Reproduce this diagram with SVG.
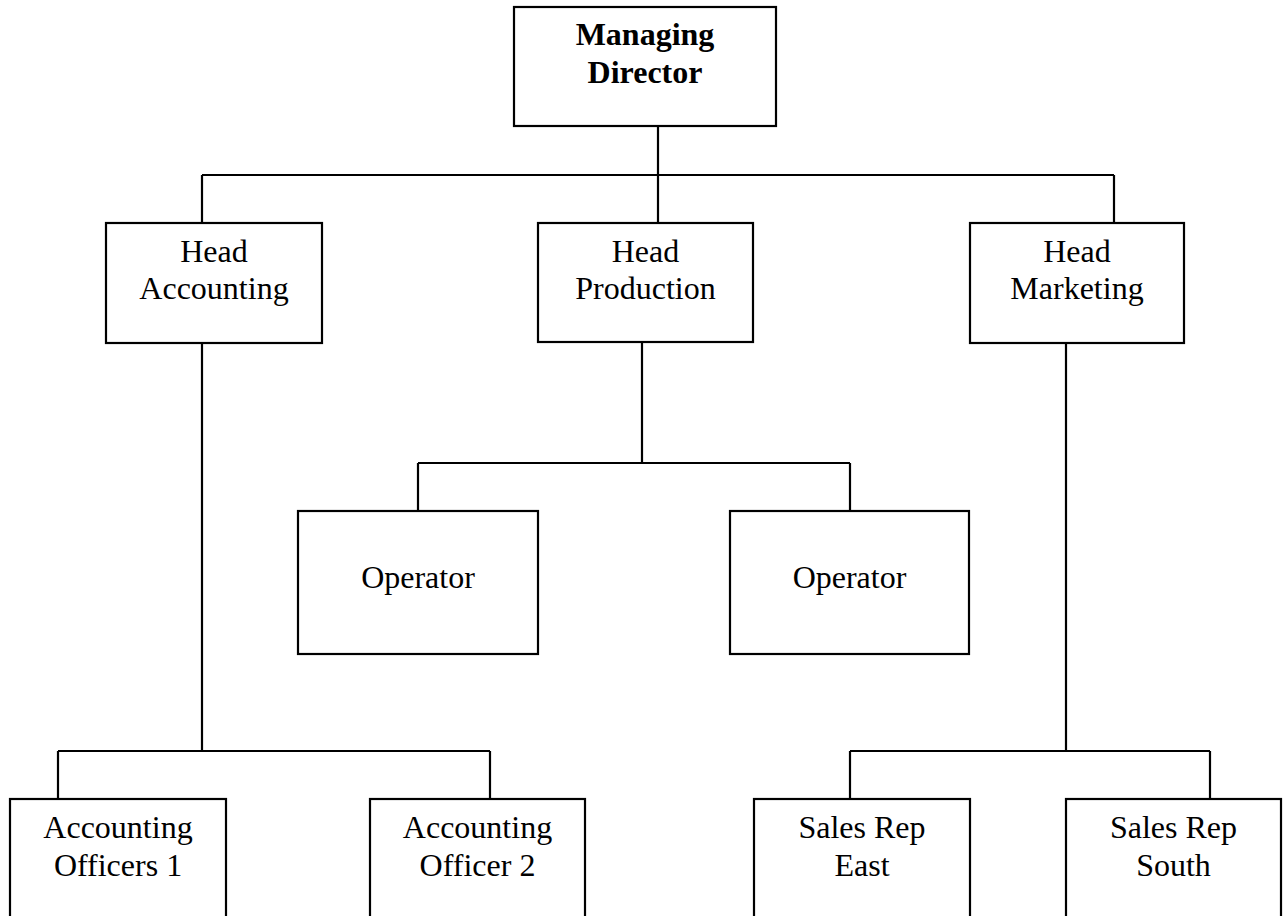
<svg xmlns="http://www.w3.org/2000/svg" width="1287" height="916" viewBox="0 0 1287 916">
<style>
.box{fill:#fff;stroke:#000;stroke-width:2.2}
.con{fill:none;stroke:#000;stroke-width:2.2}
text{font-family:"Liberation Serif","Times New Roman",serif;font-size:32px;fill:#000;text-anchor:middle}
.b{font-weight:bold}
</style>
<rect width="1287" height="916" fill="#fff"/>
<g id="connectors">
<path class="con" d="M658 126V175M202 175H1114M202 175V223M658 175V223M1114 175V223"/>
<path class="con" d="M642 342V463M418 463H850M418 463V511M850 463V511"/>
<path class="con" d="M202 343V751M58 751H490M58 751V799M490 751V799"/>
<path class="con" d="M1066 343V751M850 751H1210M850 751V799M1210 751V799"/>
</g>
<g id="md"><rect class="box" x="514" y="7" width="262" height="119"/><text class="b" x="645" y="45">Managing</text><text class="b" x="645" y="83">Director</text></g>
<g id="head-accounting"><rect class="box" x="106" y="223" width="216" height="120"/><text x="214" y="262">Head</text><text x="214" y="299">Accounting</text></g>
<g id="head-production"><rect class="box" x="538" y="223" width="215" height="119"/><text x="645.5" y="262">Head</text><text x="645.5" y="299">Production</text></g>
<g id="head-marketing"><rect class="box" x="970" y="223" width="214" height="120"/><text x="1077" y="262">Head</text><text x="1077" y="299">Marketing</text></g>
<g id="operator1"><rect class="box" x="298" y="511" width="240" height="143"/><text x="418" y="588">Operator</text></g>
<g id="operator2"><rect class="box" x="730" y="511" width="239" height="143"/><text x="849.5" y="588">Operator</text></g>
<g id="acc-officer1"><rect class="box" x="10" y="799" width="216" height="140"/><text x="118" y="838">Accounting</text><text x="118" y="876">Officers 1</text></g>
<g id="acc-officer2"><rect class="box" x="370" y="799" width="215" height="140"/><text x="477.5" y="838">Accounting</text><text x="477.5" y="876">Officer 2</text></g>
<g id="sales-east"><rect class="box" x="754" y="799" width="216" height="140"/><text x="862" y="838">Sales Rep</text><text x="862" y="876">East</text></g>
<g id="sales-south"><rect class="box" x="1066" y="799" width="215" height="140"/><text x="1173.5" y="838">Sales Rep</text><text x="1173.5" y="876">South</text></g>
</svg>
